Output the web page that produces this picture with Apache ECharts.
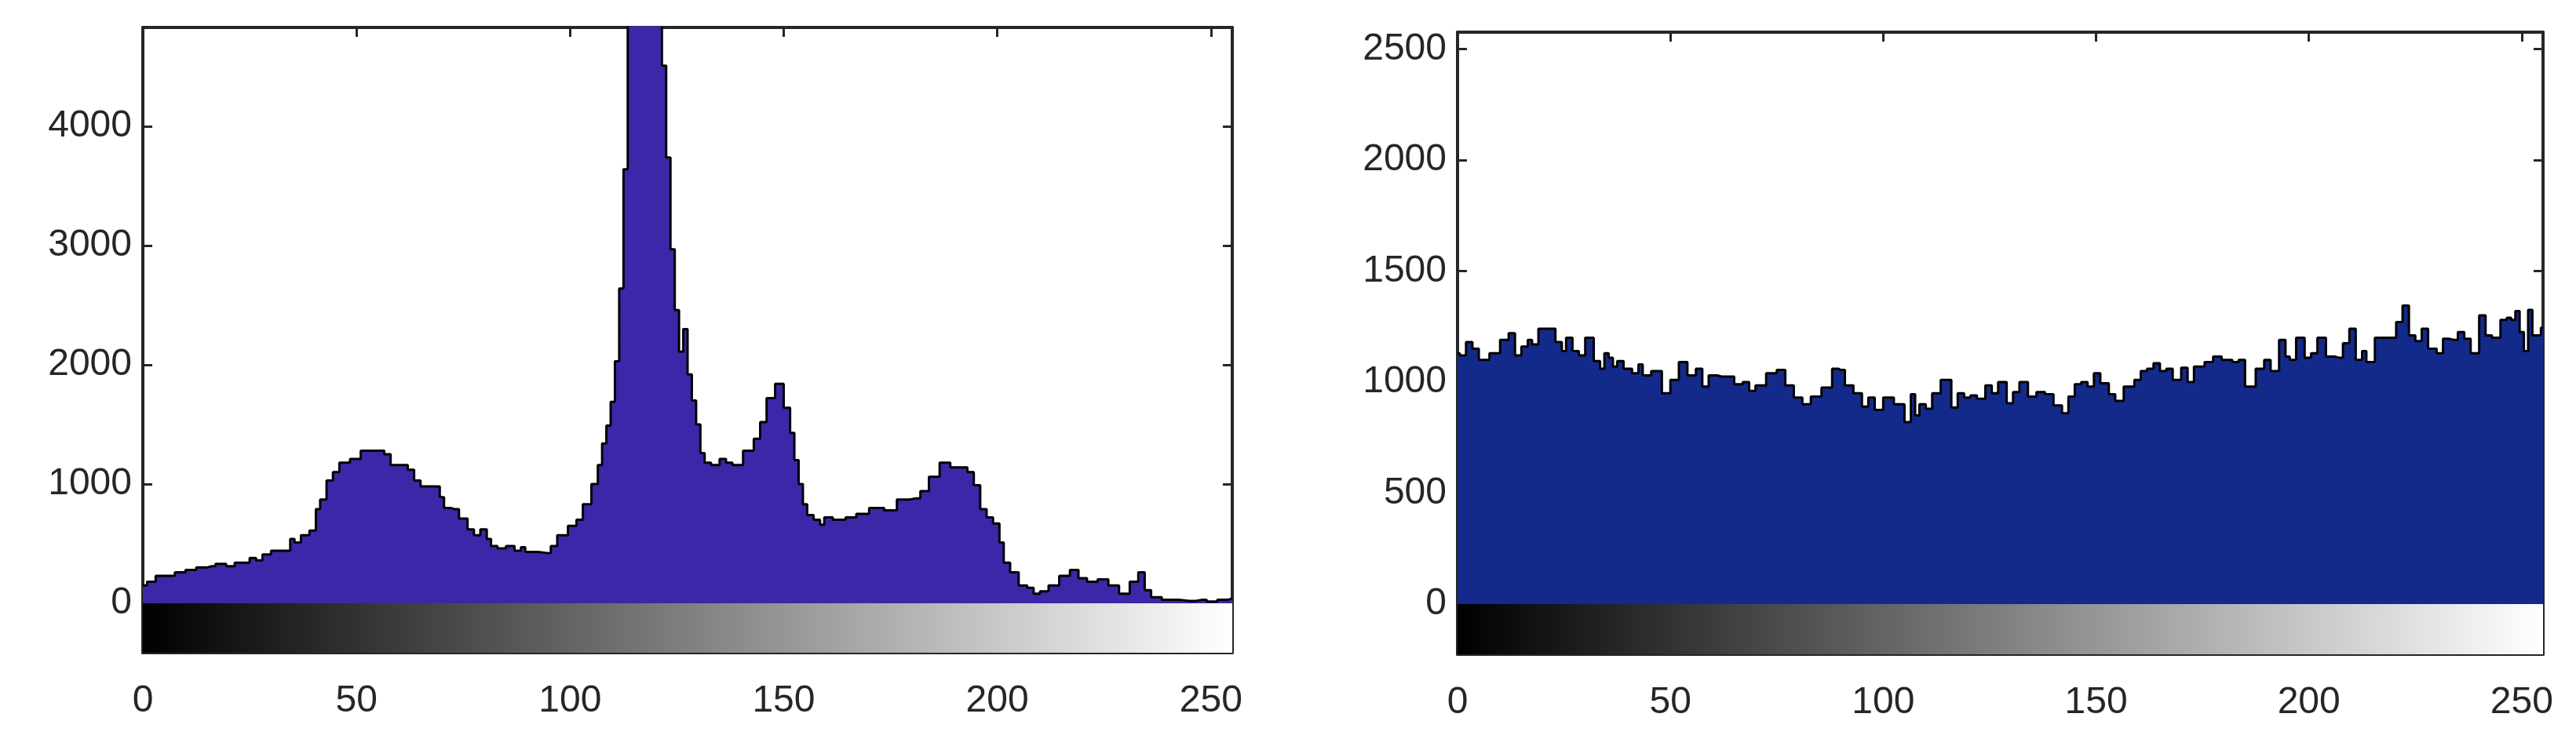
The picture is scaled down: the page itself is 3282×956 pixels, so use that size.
<!DOCTYPE html>
<html>
<head>
<meta charset="utf-8">
<script src="https://cdn.jsdelivr.net/npm/echarts@6/dist/echarts.min.js"></script>
<style>html,body{margin:0;padding:0;background:#fff}#chart{width:3282px;height:956px}</style>
</head>
<body>
<div id="chart"></div>
<script>
// grey level positions and pixel counts
var leftLevels = [0,2,4,6,9,11,14,16,18,21,22,24,26,27,29,31,34,35,36,38,40,41,42,44,45,47,50,52,56,57,59,61,63,64,66,69,70,71,73,75,77,78,80,81,82,84,86,88,89,90,95,96,98,101,102,104,106,107,108,109,110,111,112,113,114,118,121,122,123,124,125,126,127,128,129,130,131,132,134,136,137,139,142,144,145,147,149,151,152,153,154,155,156,158,159,160,163,166,168,172,175,178,181,183,185,188,190,192,194,195,197,198,200,201,202,204,206,208,209,211,213,216,218,220,222,225,227,230,232,234,235,237,240,245,248,250,253,255];
var leftCounts = [150,180,230,230,260,280,300,310,330,310,340,340,380,360,410,440,440,540,510,570,610,790,870,1030,1100,1180,1210,1280,1280,1250,1160,1160,1120,1030,980,980,890,800,790,710,620,570,620,540,480,460,480,440,470,430,420,480,570,650,700,830,1000,1160,1340,1490,1690,2030,2640,3640,6000,6000,6000,4510,3740,2970,2460,2110,2300,1920,1700,1500,1260,1180,1160,1210,1180,1160,1280,1380,1520,1720,1840,1640,1430,1200,1000,830,740,700,660,720,700,720,750,800,780,870,880,940,1060,1180,1140,1140,1100,990,790,720,670,510,340,260,150,130,80,100,150,230,280,210,180,200,150,80,180,260,110,50,30,20,30,15,30,40];

var rightLevels = [0,1,3,4,6,9,11,13,14,16,17,18,20,22,24,25,26,28,29,31,33,34,35,36,37,38,40,42,43,44,47,49,51,53,55,57,58,60,62,64,66,68,69,71,74,76,78,80,82,84,87,89,90,92,94,96,97,99,101,104,106,107,108,109,111,112,115,117,118,120,121,123,125,126,128,130,131,133,135,137,139,141,143,144,146,147,149,150,152,154,155,158,160,161,163,164,166,167,169,171,172,174,177,178,181,183,184,186,189,190,192,194,195,196,198,200,201,203,205,207,209,210,212,213,214,217,218,220,221,223,224,226,227,229,231,232,234,236,237,239,241,242,244,246,247,248,249,250,251,252,253,254,255];
var rightCounts = [1130,1120,1180,1150,1100,1130,1190,1220,1120,1160,1190,1170,1240,1240,1180,1140,1200,1140,1120,1200,1095,1060,1130,1110,1070,1095,1060,1040,1080,1030,1050,950,1010,1090,1030,1060,980,1030,1025,1025,990,1000,960,985,1040,1055,985,930,900,935,975,1060,1055,985,950,890,930,875,930,900,820,945,850,900,880,950,1010,885,950,930,940,925,985,950,1000,905,955,1000,935,955,945,895,860,935,990,1000,980,1040,995,945,915,980,1010,1050,1060,1085,1050,1060,1010,1065,1000,1070,1090,1115,1100,1090,1100,980,1060,1100,1050,1190,1115,1100,1200,1110,1130,1200,1115,1110,1175,1240,1100,1140,1090,1200,1200,1200,1270,1345,1210,1185,1240,1150,1130,1195,1190,1225,1195,1130,1300,1210,1200,1280,1290,1280,1320,1225,1140,1325,1210,1210,1245,1300,1300];

var xTicks = [0,50,100,150,200,250];
var leftYTicks = [0,1000,2000,3000,4000];
var rightYTicks = [0,500,1000,1500,2000,2500];

function pairs(xs, ys) {
  var out = [];
  for (var i = 0; i < xs.length; i++) out.push([xs[i], ys[i]]);
  return out;
}

var axisCol = '#262626';
var lbl = { color: '#262626', fontSize: 48, fontFamily: 'Liberation Sans, Arial, sans-serif',
  formatter: function (v) { return String(v); } };

function xAx(idx, top) {
  return {
    type: 'value', gridIndex: idx, min: 0, max: 255, position: top ? 'top' : 'bottom',
    axisLine: { onZero: false, lineStyle: { color: axisCol, width: 4 } },
    axisTick: { inside: true, length: 12, customValues: xTicks, lineStyle: { color: axisCol, width: 3 } },
    axisLabel: top ? { show: false } : Object.assign({ customValues: xTicks, margin: 38 }, lbl),
    splitLine: { show: false }
  };
}
function yAx(idx, min, max, ticks, right) {
  return {
    type: 'value', gridIndex: idx, min: min, max: max, position: right ? 'right' : 'left',
    axisLine: { show: true, onZero: false, lineStyle: { color: axisCol, width: 4 } },
    axisTick: { show: true, inside: true, length: 12, customValues: ticks, lineStyle: { color: axisCol, width: 3 } },
    axisLabel: right ? { show: false } : Object.assign({ customValues: ticks, margin: 14 }, lbl),
    splitLine: { show: false }
  };
}

var grad = new echarts.graphic.LinearGradient(0, 0, 1, 0, [
  { offset: 0, color: '#000000' }, { offset: 1, color: '#ffffff' }
]);

function hist(idx, data, fill, min) {
  return {
    type: 'line', xAxisIndex: idx * 2, yAxisIndex: idx * 2, data: data,
    step: 'middle', symbol: 'none', clip: true,
    lineStyle: { color: '#000', width: 3 },
    areaStyle: { color: fill, opacity: 1, origin: 0 },
    markArea: { silent: true, itemStyle: { color: grad, opacity: 1 },
      data: [[{ coord: [0, min] }, { coord: [255, 0] }]] }
  };
}

var chart = echarts.init(document.getElementById('chart'));
chart.setOption({
  animation: false,
  grid: [
    { left: 182, right: 1712, top: 35, bottom: 124 },
    { left: 1857, right: 42, top: 41, bottom: 122 }
  ],
  xAxis: [xAx(0, false), xAx(0, true), xAx(1, false), xAx(1, true)],
  yAxis: [yAx(0, -415, 4830, leftYTicks, false), yAx(0, -415, 4830, leftYTicks, true),
          yAx(1, -226, 2576, rightYTicks, false), yAx(1, -226, 2576, rightYTicks, true)],
  series: [
    hist(0, pairs(leftLevels, leftCounts), '#3d27a8', -415),
    hist(1, pairs(rightLevels, rightCounts), '#142a8a', -226)
  ]
});
</script>
</body>
</html>
